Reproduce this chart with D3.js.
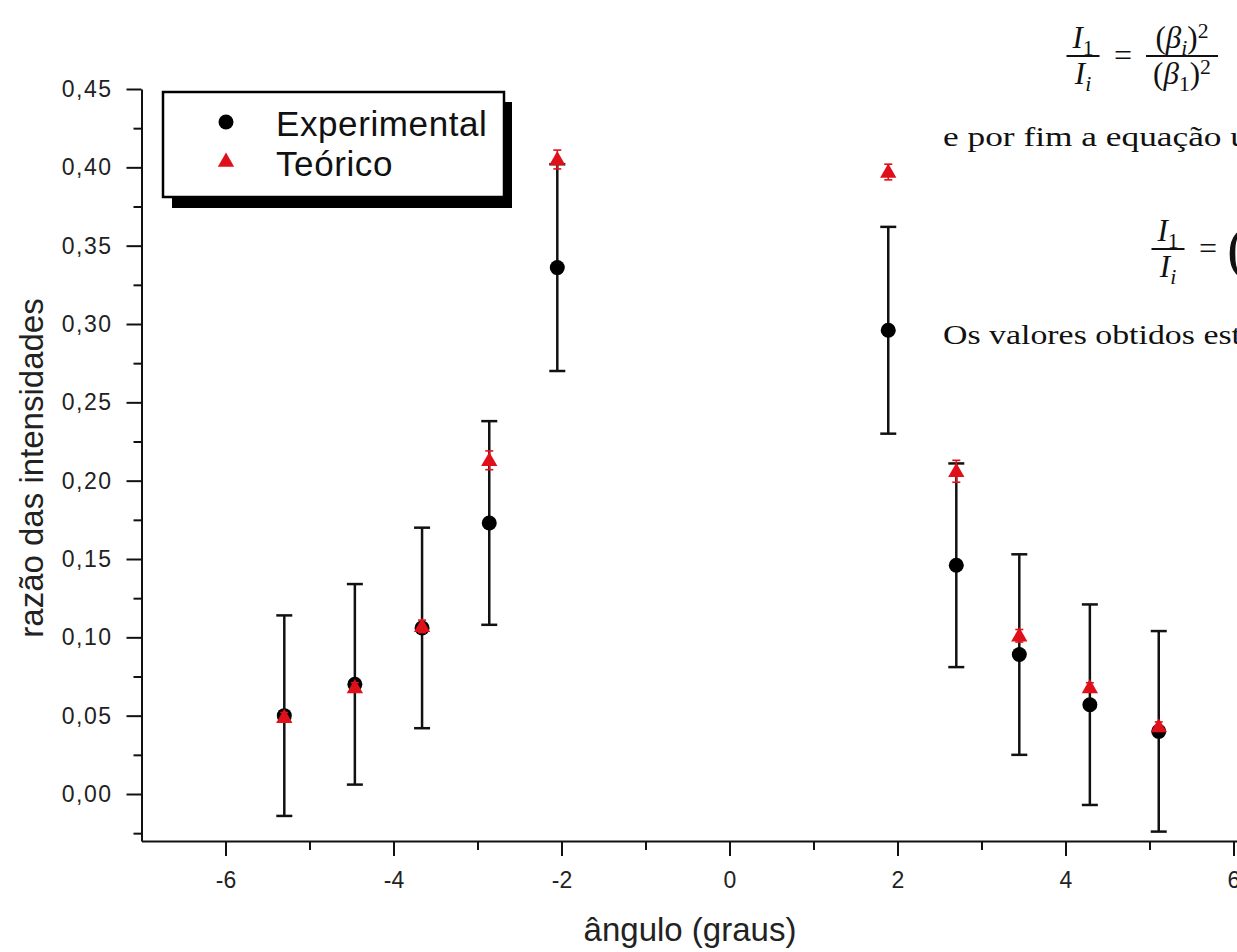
<!DOCTYPE html>
<html>
<head>
<meta charset="utf-8">
<script src="https://cdn.jsdelivr.net/npm/d3@7"></script>
<style>
  body { margin: 0; background: #fff; }
  svg { display: block; }
</style>
</head>
<body>
<script>
// Angle (degrees) of each measured order
const angles = [-5.30, -4.46, -3.66, -2.86, -2.05, 1.89, 2.70, 3.45, 4.29, 5.11];
// Measured intensity ratio and its uncertainty
const experimental    = [0.050, 0.070, 0.106, 0.173, 0.336, 0.296, 0.146, 0.089, 0.057, 0.040];
const experimentalErr = [0.064, 0.064, 0.064, 0.065, 0.066, 0.066, 0.065, 0.064, 0.064, 0.064];
// Predicted intensity ratio and its (small) uncertainty
const theoretical    = [0.049, 0.068, 0.107, 0.213, 0.405, 0.397, 0.206, 0.101, 0.068, 0.043];
const theoreticalErr = [0.003, 0.003, 0.004, 0.006, 0.006, 0.005, 0.007, 0.004, 0.003, 0.003];

const xTicks = [-6, -4, -2, 0, 2, 4, 6];
const xTickLabels = ["-6", "-4", "-2", "0", "2", "4", "6"];
const xMinorTicks = [-5, -3, -1, 1, 3, 5];
const yTicks = [0, 0.05, 0.10, 0.15, 0.20, 0.25, 0.30, 0.35, 0.40, 0.45];
const yTickLabels = ["0,00", "0,05", "0,10", "0,15", "0,20", "0,25", "0,30", "0,35", "0,40", "0,45"];
const yMinorTicks = [-0.025, 0.025, 0.075, 0.125, 0.175, 0.225, 0.275, 0.325, 0.375, 0.425];
const legendLabels = ["Experimental", "Teórico"];
const xTitle = "ângulo (graus)";
const yTitle = "razão das intensidades";

const W = 1237, H = 952;
const RED = "#e0101a";
const SANS = "'Liberation Sans', Arial, sans-serif";
const SERIF = "'Liberation Serif', 'Times New Roman', serif";

const svg = d3.select("body").append("svg")
  .attr("width", W).attr("height", H)
  .attr("viewBox", `0 0 ${W} ${H}`);
svg.append("rect").attr("width", W).attr("height", H).attr("fill", "#fff");

const x = d3.scaleLinear().domain([-7, 7]).range([141.5, 1317.5]);
const y = d3.scaleLinear().domain([-0.03, 0.45]).range([841, 89]);

// ---- axes ----
function styleAxis(g) {
  g.selectAll("path, line").attr("stroke", "#111").attr("stroke-width", 2);
  g.selectAll("text").attr("fill", "#222").style("font-family", SANS).style("font-size", "23px");
}

const yAxisG = svg.append("g").attr("transform", `translate(${x(-7)},0)`)
  .call(d3.axisLeft(y).tickValues(yTicks).tickFormat((d, i) => yTickLabels[i])
    .tickSize(15).tickSizeOuter(0).tickPadding(14));
styleAxis(yAxisG);
yAxisG.selectAll("text").attr("letter-spacing", "1.5px");

svg.append("g").attr("transform", `translate(${x(-7)},0)`)
  .call(d3.axisLeft(y).tickValues(yMinorTicks).tickFormat("").tickSize(8))
  .call(g => g.select(".domain").remove())
  .call(styleAxis);

const xAxisG = svg.append("g").attr("transform", `translate(0,${y(-0.03)})`)
  .call(d3.axisBottom(x).tickValues(xTicks).tickFormat((d, i) => xTickLabels[i])
    .tickSize(15).tickSizeOuter(0).tickPadding(16));
styleAxis(xAxisG);

svg.append("g").attr("transform", `translate(0,${y(-0.03)})`)
  .call(d3.axisBottom(x).tickValues(xMinorTicks).tickFormat("").tickSize(9))
  .call(g => g.select(".domain").remove())
  .call(styleAxis);

// ---- axis titles ----
svg.append("text")
  .attr("x", 690).attr("y", 941)
  .attr("text-anchor", "middle")
  .style("font-family", SANS).style("font-size", "33px").attr("fill", "#222")
  .text(xTitle);

svg.append("text")
  .attr("transform", `translate(43,${(y(0.45) + y(-0.03)) / 2 + 3}) rotate(-90)`)
  .attr("text-anchor", "middle")
  .style("font-family", SANS).style("font-size", "33px").attr("fill", "#222")
  .text(yTitle);

// ---- error bars ----
const rows = angles.map((a, i) => ({
  a, e: experimental[i], de: experimentalErr[i], t: theoretical[i], dt: theoreticalErr[i]
}));

function errorBars(g, val, err, color, width, cap) {
  const eb = g.selectAll("g").data(rows).join("g");
  eb.append("line")
    .attr("x1", d => x(d.a)).attr("x2", d => x(d.a))
    .attr("y1", d => y(d[val] - d[err])).attr("y2", d => y(d[val] + d[err]))
    .attr("stroke", color).attr("stroke-width", width);
  [-1, 1].forEach(s => {
    eb.append("line")
      .attr("x1", d => x(d.a) - cap / 2).attr("x2", d => x(d.a) + cap / 2)
      .attr("y1", d => y(d[val] + s * d[err])).attr("y2", d => y(d[val] + s * d[err]))
      .attr("stroke", color).attr("stroke-width", width);
  });
}
errorBars(svg.append("g"), "e", "de", "#111", 2.5, 16);

// ---- markers ----
const tri = d3.symbol().type(d3.symbolTriangle).size(115);

svg.append("g").selectAll("circle").data(rows).join("circle")
  .attr("cx", d => x(d.a)).attr("cy", d => y(d.e)).attr("r", 7.5)
  .attr("fill", "#000");

errorBars(svg.append("g"), "t", "dt", RED, 1.6, 8);

svg.append("g").selectAll("path").data(rows).join("path")
  .attr("d", tri)
  .attr("transform", d => `translate(${x(d.a)},${y(d.t) + 1})`)
  .attr("fill", RED);

// ---- legend ----
const lg = svg.append("g");
lg.append("rect").attr("x", 172).attr("y", 102).attr("width", 340).attr("height", 106).attr("fill", "#000");
lg.append("rect").attr("x", 163).attr("y", 92).attr("width", 341).attr("height", 105)
  .attr("fill", "#fff").attr("stroke", "#000").attr("stroke-width", 2.5);
lg.append("circle").attr("cx", 226).attr("cy", 122).attr("r", 7.5).attr("fill", "#000");
lg.append("path").attr("d", tri).attr("transform", "translate(226,162)").attr("fill", RED);
legendLabels.forEach((t, i) => {
  lg.append("text").attr("x", 276).attr("y", 136 + i * 40)
    .style("font-family", SANS).style("font-size", "35px").attr("fill", "#111")
    .attr("letter-spacing", "0.6px")
    .text(t);
});

// ---- surrounding document text ----
const doc = svg.append("g").style("font-family", SERIF).attr("fill", "#111");

function frac(g, cx, barY, barW, num, den, size) {
  g.append("line").attr("x1", cx - barW / 2).attr("x2", cx + barW / 2)
    .attr("y1", barY).attr("y2", barY).attr("stroke", "#111").attr("stroke-width", 1.8);
  [[num, barY - 8], [den, barY + 28]].forEach(([parts, by]) => {
    const t = g.append("text").attr("x", cx).attr("y", by).attr("text-anchor", "middle")
      .style("font-size", size + "px");
    parts.forEach(p => {
      const s = t.append("tspan").text(p.t);
      if (p.it) s.style("font-style", "italic");
      if (p.sub) s.attr("baseline-shift", "-30%").style("font-size", (size * 0.7) + "px");
      if (p.sup) s.attr("baseline-shift", "45%").style("font-size", (size * 0.7) + "px");
    });
  });
}

// I1/Ii = (βi)^2/(β1)^2
frac(doc, 1083, 56, 33, [{t: "I", it: true}, {t: "1", sub: true}], [{t: "I", it: true}, {t: "i", it: true, sub: true}], 31);
doc.append("text").attr("x", 1123).attr("y", 66).attr("text-anchor", "middle").style("font-size", "32px").text("=");
frac(doc, 1182, 56, 72,
  [{t: "("}, {t: "β", it: true}, {t: "i", it: true, sub: true}, {t: ")"}, {t: "2", sup: true}],
  [{t: "("}, {t: "β", it: true}, {t: "1", sub: true}, {t: ")"}, {t: "2", sup: true}], 31);

doc.append("text").attr("x", 943).attr("y", 146)
  .attr("textLength", 305).attr("lengthAdjust", "spacingAndGlyphs")
  .style("font-size", "28px").text("e por fim a equação u");

frac(doc, 1168, 249, 33, [{t: "I", it: true}, {t: "1", sub: true}], [{t: "I", it: true}, {t: "i", it: true, sub: true}], 31);
doc.append("text").attr("x", 1208).attr("y", 259).attr("text-anchor", "middle").style("font-size", "32px").text("=");
doc.append("text").attr("x", 1227).attr("y", 268).style("font-size", "60px").text("(");

doc.append("text").attr("x", 943).attr("y", 344)
  .attr("textLength", 298).attr("lengthAdjust", "spacingAndGlyphs")
  .style("font-size", "28px").text("Os valores obtidos est");
</script>
</body>
</html>
